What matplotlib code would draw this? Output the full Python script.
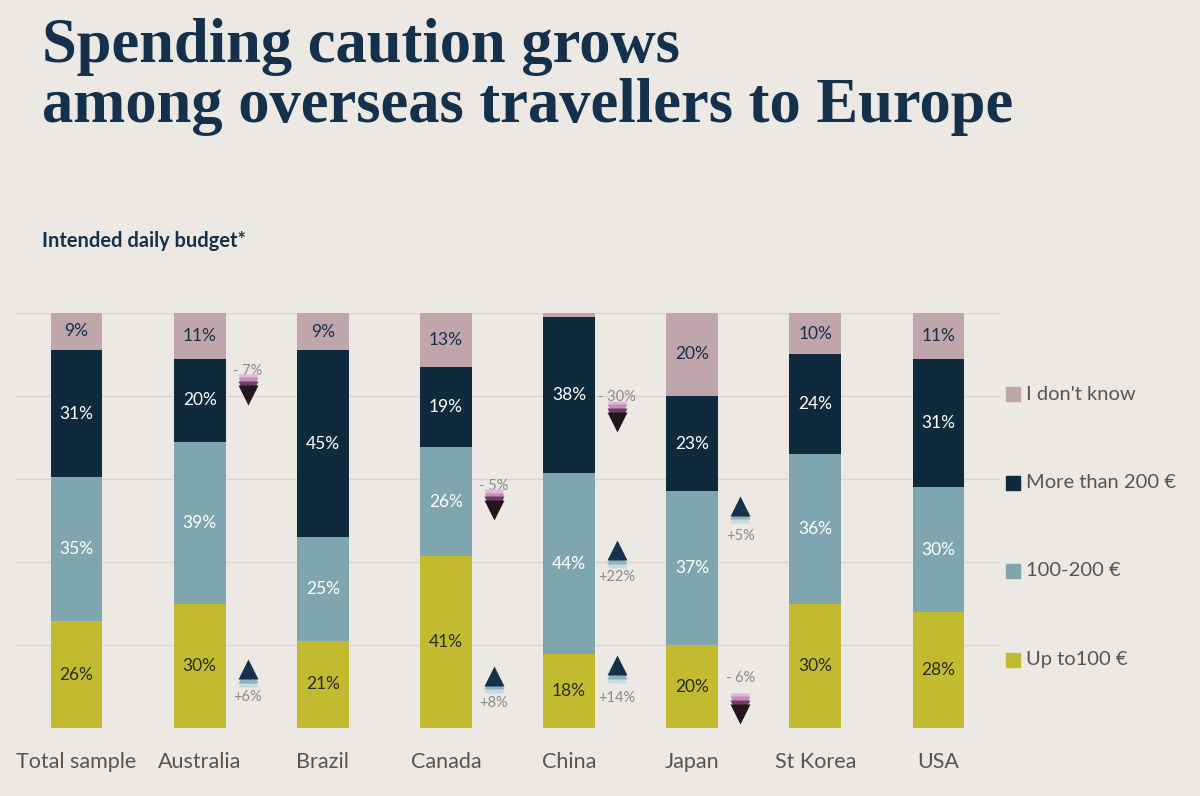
import numpy as np
import matplotlib.pyplot as plt
from matplotlib.patches import Rectangle

# data
categories = ["Total sample", "Australia", "Brazil", "Canada", "China", "Japan", "St Korea", "USA"]
up_to_100 = [26, 30, 21, 41, 18, 20, 30, 28]
between_100_200 = [35, 39, 25, 26, 44, 37, 36, 30]
more_than_200 = [31, 20, 45, 19, 38, 23, 24, 31]
dont_know = [9, 11, 9, 13, 1, 20, 10, 11]
series_names = ["Up to100 €", "100-200 €", "More than 200 €", "I don't know"]

# change vs previous survey
change_cat = [1, 1, 3, 3, 4, 4, 4, 5, 5]
change_txt = ["- 7%", "+6%", "- 5%", "+8%", "- 30%", "+22%", "+14%", "+5%", "- 6%"]
change_dir = [-1, 1, -1, 1, -1, 1, 1, 1, -1]
# where the arrow and its label sit (in % of bar height)
change_y = [81.5, 13.5, 53.7, 12, 75, 42.2, 14.5, 53, 4.6]
change_lbl_y = [86, 7.5, 58.3, 6, 79.8, 36.4, 7.2, 46.3, 12]

BG = "#ece9e4"
colors = ["#c3bb2f", "#7fa6ae", "#0f2a3d", "#bfa6ad"]
text_cols = ["#2b2b1e", "white", "white", "#1a2e44"]
NAVY = "#15304a"

plt.rcParams['font.family'] = ['Lato', 'DejaVu Sans']

fig = plt.figure(figsize=(12, 7.96), dpi=100, facecolor=BG)
ax = fig.add_axes([15 / 1200, 1 - 728 / 796, 985 / 1200, 415 / 796])
ax.set_facecolor(BG)

x = np.arange(len(categories))
series = [up_to_100, between_100_200, more_than_200, dont_know]
# normalise each bar to 100 so they all fill the full height
totals = np.sum(series, axis=0)
bottom = np.zeros(len(categories))
for vals, col, tcol in zip(series, colors, text_cols):
    h = np.array(vals) / totals * 100
    ax.bar(x, h, bottom=bottom, width=0.42, color=col, zorder=2)
    for xi, b, hi, v in zip(x, bottom, h, vals):
        if v >= 5:
            ax.text(xi, b + hi / 2, f"{v}%", ha="center", va="center",
                    color=tcol, fontsize=12.5, zorder=3)
    bottom += h

# gridlines
for g in range(0, 101, 20):
    ax.axhline(g, color="#d8d4ce", lw=1, zorder=1)

# change arrows (stacked triangles)
up_cols = ["#c9dade", "#8fb2ba", "#15304a"]
down_cols = ["#e3b7dc", "#c78abd", "#6e3f62", "#24151f"]
for ci, txt, d, y, ly in zip(change_cat, change_txt, change_dir, change_y, change_lbl_y):
    xa = ci + 0.39
    if d < 0:
        for k, c in enumerate(down_cols):
            ax.plot(xa, y + 1.5 - k * 0.9, marker="v", ms=14, color=c, mec="none", zorder=4)
    else:
        for k, c in enumerate(up_cols):
            ax.plot(xa, y - 1.2 + k * 0.9, marker="^", ms=14, color=c, mec="none", zorder=4)
    ax.text(xa, ly, txt, ha="center", va="center", fontsize=10.5, color="#8a8a8a")

ax.set_xlim(-0.5, 7.5)
ax.set_ylim(0, 100)
ax.set_yticks([])
ax.set_xticks(x)
ax.set_xticklabels(categories, fontsize=15.5, color="#555555")
ax.tick_params(axis="x", length=0, pad=17)
for s in ax.spines.values():
    s.set_visible(False)

# legend
leg_y = [660, 571, 483, 394]
for name, col, ly in zip(series_names, colors, leg_y):
    fig.patches.append(Rectangle((1006 / 1200, 1 - (ly + 7) / 796), 14 / 1200, 14 / 796,
                                 transform=fig.transFigure, color=col, figure=fig))
    fig.text(1026 / 1200, 1 - ly / 796, name, fontsize=14.5, color="#555555", va="center")

# titles
fig.text(42 / 1200, 1 - 62 / 796, "Spending caution grows", fontsize=45, fontweight="bold",
         family="Liberation Serif", color=NAVY, va="baseline")
fig.text(42 / 1200, 1 - 122 / 796, "among overseas travellers to Europe", fontsize=45,
         fontweight="bold", family="Liberation Serif", color=NAVY, va="baseline")
fig.text(42 / 1200, 1 - 241 / 796, "Intended daily budget*", fontsize=14.4, fontweight="bold",
         color=NAVY, va="center")

fig.savefig("out.png", dpi=100, facecolor=BG)
